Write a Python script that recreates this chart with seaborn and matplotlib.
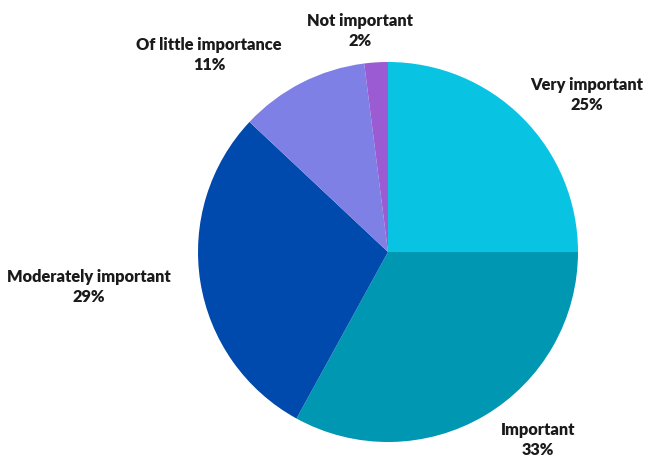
import numpy as np
import matplotlib
matplotlib.use("Agg")
import matplotlib.pyplot as plt
import seaborn as sns

# --- Data ---
categories = ["Very important", "Important", "Moderately important",
              "Of little importance", "Not important"]
shares = [25, 33, 29, 11, 2]
slice_colors = ["#08C4E2", "#0097B2", "#004AAD", "#7F80E6", "#9B5BD2"]

# label centres (in pie-radius units), tuned to the reference layout
label_pos = [(1.047, 0.826), (0.789, -0.99), (-1.574, -0.184),
             (-0.942, 1.037), (-0.147, 1.163)]

sns.set_theme(style="white")
plt.rcParams['font.family'] = ['Lato', 'DejaVu Sans']

fig = plt.figure(figsize=(6.56, 4.57), dpi=100)
ax = fig.add_axes([0, 0, 1, 1])

palette = sns.color_palette(slice_colors)
labels = [f"{c}\n{v}%" for c, v in zip(categories, shares)]
wedges, texts = ax.pie(shares, labels=labels, colors=palette,
                       startangle=90, counterclock=False,
                       wedgeprops=dict(linewidth=0),
                       textprops=dict(fontsize=11.8, fontweight='heavy',
                                      color='#1a1a1a'))

for t, (x, y) in zip(texts, label_pos):
    t.set_position((x, y))
    t.set_horizontalalignment('center')
    t.set_verticalalignment('center')
    t.set_multialignment('center')
    t.set_linespacing(1.3)

# centre at (388, 252) px, radius 190 px
r = 190.0
ax.set_xlim(-388 / r, (656 - 388) / r)
ax.set_ylim(-(457 - 252) / r, 252 / r)
ax.set_aspect('auto')
ax.axis('off')

fig.savefig("out.png", dpi=100, facecolor='white')
